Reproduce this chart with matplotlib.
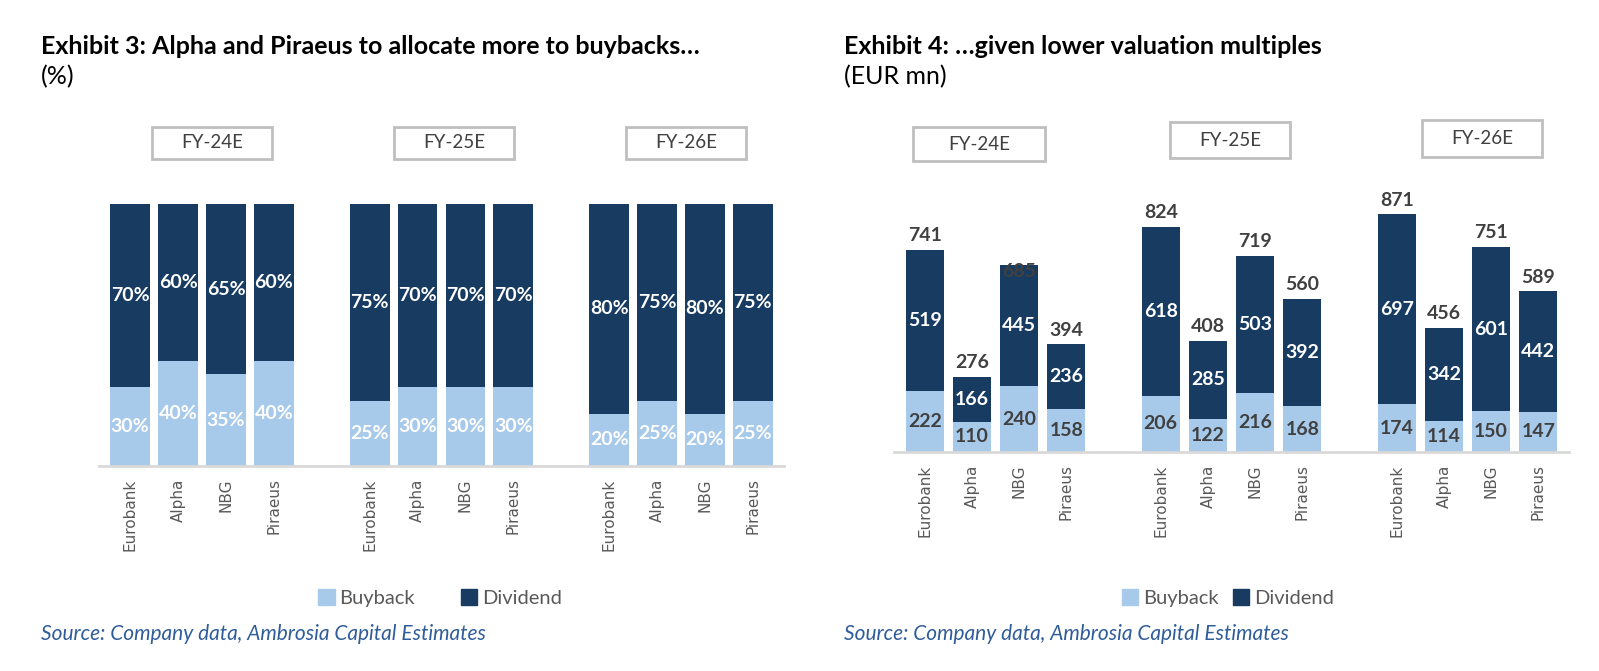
import numpy as np
import matplotlib
matplotlib.use('Agg')
import matplotlib.pyplot as plt
from matplotlib.patches import Rectangle, Patch

plt.rcParams['font.family'] = ['Lato', 'DejaVu Sans']

# data
banks = ['Eurobank', 'Alpha', 'NBG', 'Piraeus']
years = ['FY-24E', 'FY-25E', 'FY-26E']
buyback_pct = [30, 40, 35, 40, 25, 30, 30, 30, 20, 25, 20, 25]
dividend_pct = [70, 60, 65, 60, 75, 70, 70, 70, 80, 75, 80, 75]
buyback_eur = [222, 110, 240, 158, 206, 122, 216, 168, 174, 114, 150, 147]
dividend_eur = [519, 166, 445, 236, 618, 285, 503, 392, 697, 342, 601, 442]
total_eur = [741, 276, 685, 394, 824, 408, 719, 560, 871, 456, 751, 589]

light = '#a7c9ea'
dark = '#173b61'
grey_txt = '#404040'
src_blue = '#2f5c9a'

W, H = 1599, 671
fig = plt.figure(figsize=(W / 100, H / 100), dpi=100)

# bar positions: 4 banks per year, one empty slot between years
x = np.array([g * 5 + i for g in range(len(years)) for i in range(len(banks))])
labels = banks * len(years)


def style_axis(ax):
    for s in ['top', 'right', 'left']:
        ax.spines[s].set_visible(False)
    ax.spines['bottom'].set_color('#d9d9d9')
    ax.spines['bottom'].set_linewidth(2)
    ax.set_yticks([])
    ax.set_xticks(x)
    ax.set_xticklabels(labels, rotation=90, fontsize=11, color='#595959',
                       family='DejaVu Sans')
    ax.tick_params(axis='x', length=0, pad=9)
    ax.set_xlim(-0.65, 13.65)


def fy_box(x0, y0, w, h, text):
    fig.add_artist(Rectangle((x0 / W, 1 - (y0 + h) / H), w / W, h / H,
                             transform=fig.transFigure, fill=False,
                             ec='#bfbfbf', lw=2))
    fig.text((x0 + w / 2) / W, 1 - (y0 + h / 2) / H, text, ha='center',
             va='center', fontsize=13.5, color=grey_txt)


# ---- Exhibit 3 ----
ax1 = fig.add_axes([99 / W, 1 - 466 / H, 685 / W, 262 / H])
ax1.bar(x, buyback_pct, width=0.83, color=light)
ax1.bar(x, dividend_pct, width=0.83, bottom=buyback_pct, color=dark)
ax1.set_ylim(0, 100)
style_axis(ax1)
for xi, b, d in zip(x, buyback_pct, dividend_pct):
    ax1.text(xi, b / 2, f'{b}%', ha='center', va='center', color='white',
             fontsize=14, fontweight='bold')
    ax1.text(xi, b + d / 2, f'{d}%', ha='center', va='center', color='white',
             fontsize=14, fontweight='bold')

# ---- Exhibit 4 ----
ax2 = fig.add_axes([894 / W, 1 - 452 / H, 675 / W, 273 / H])
ax2.bar(x, buyback_eur, width=0.8, color=light)
ax2.bar(x, dividend_eur, width=0.8, bottom=buyback_eur, color=dark)
ax2.set_ylim(0, 1000)
style_axis(ax2)
for k, (xi, b, d, t) in enumerate(zip(x, buyback_eur, dividend_eur, total_eur)):
    ax2.text(xi, b / 2, str(b), ha='center', va='center', color=grey_txt,
             fontsize=14, fontweight='bold')
    ax2.text(xi, b + d / 2, str(d), ha='center', va='center', color='white',
             fontsize=14, fontweight='bold')
    # the NBG FY-24E total sits on top of its bar in the original
    ty = b + d - 22 if k == 2 else b + d + 52
    ax2.text(xi, ty, str(t), ha='center', va='center', color=grey_txt,
             fontsize=14, fontweight='bold')

# year boxes
for (bx, by, bw, bh), yr in zip([(152, 127, 120, 32), (394, 127, 120, 32),
                                 (626, 127, 120, 32)], years):
    fy_box(bx, by, bw, bh, yr)
for (bx, by, bw, bh), yr in zip([(913, 127, 132, 34), (1170, 122, 120, 36),
                                 (1422, 120, 120, 37)], years):
    fy_box(bx, by, bw, bh, yr)

# titles
fig.text(41 / W, 1 - 46 / H, 'Exhibit 3: Alpha and Piraeus to allocate more to buybacks…',
         fontsize=18, fontweight='bold', va='center', color='black')
fig.text(41 / W, 1 - 77 / H, '(%)', fontsize=18, va='center', color='black')
fig.text(844 / W, 1 - 46 / H, 'Exhibit 4: …given lower valuation multiples',
         fontsize=18, fontweight='bold', va='center', color='black')
fig.text(844 / W, 1 - 77 / H, '(EUR mn)', fontsize=18, va='center', color='black')

# legends
handles = [Patch(color=light, label='Buyback'), Patch(color=dark, label='Dividend')]
for cx, cs in [(440, 2.25), (1228, 0.7)]:
    fig.legend(handles=handles, loc='center', bbox_to_anchor=(cx / W, 1 - 598 / H),
               ncol=2, frameon=False, fontsize=14.5, handlelength=0.8,
               handleheight=0.8, handletextpad=0.25, columnspacing=cs,
               labelcolor='#595959')

# sources
for sx in [41, 844]:
    fig.text(sx / W, 1 - 634 / H, 'Source: Company data, Ambrosia Capital Estimates',
             fontsize=15, style='italic', color=src_blue, va='center')

fig.savefig('out.png', dpi=100)
